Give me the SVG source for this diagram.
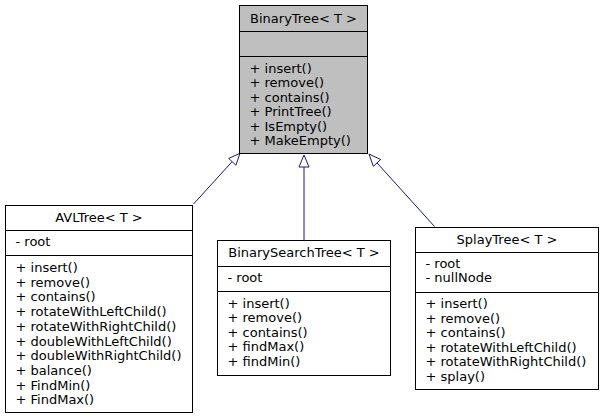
<svg xmlns="http://www.w3.org/2000/svg" width="604" height="419" viewBox="0 0 604 419">
<style>
text{font-family:"DejaVu Sans","Liberation Sans",sans-serif;font-size:13px;fill:#000}
.c{text-anchor:middle}
.box{stroke:#000;stroke-width:1}
.sep{stroke:#000;stroke-width:1}
.edge{stroke:#191970;stroke-width:1;fill:none}
.head{stroke:#191970;stroke-width:1;fill:#fff}
</style>
<rect width="604" height="419" fill="#fff"/>
<g id="connectors">
<line class="edge" x1="193.5" y1="204" x2="232" y2="161.8"/>
<polygon class="head" points="240,153.3 235.9,165.2 228.7,158.4"/>
<line class="edge" x1="304" y1="240" x2="304" y2="167"/>
<polygon class="head" points="304,155 309,167 299,167"/>
<line class="edge" x1="434.5" y1="226.5" x2="377" y2="162.9"/>
<polygon class="head" points="369,154 380.7,159.5 373.3,166.3"/>
</g>
<g id="BinaryTree">
<rect class="box" x="239.5" y="5.5" width="128" height="148" fill="#bfbfbf"/>
<line class="sep" x1="239.5" y1="31.5" x2="367.5" y2="31.5"/>
<line class="sep" x1="239.5" y1="56.5" x2="367.5" y2="56.5"/>
<text class="c" x="303.5" y="22.5">BinaryTree&lt; T &gt;</text>
<text x="249.5" y="72.5">+ insert()</text>
<text x="249.5" y="87">+ remove()</text>
<text x="249.5" y="101.5">+ contains()</text>
<text x="249.5" y="116">+ PrintTree()</text>
<text x="249.5" y="130.5">+ IsEmpty()</text>
<text x="249.5" y="145">+ MakeEmpty()</text>
</g>
<g id="AVLTree">
<rect class="box" x="5.5" y="205.5" width="187" height="207" fill="#fff"/>
<line class="sep" x1="5.5" y1="230.5" x2="192.5" y2="230.5"/>
<line class="sep" x1="5.5" y1="255.5" x2="192.5" y2="255.5"/>
<text class="c" x="99" y="221.5">AVLTree&lt; T &gt;</text>
<text x="15.5" y="246">- root</text>
<text x="15.5" y="272">+ insert()</text>
<text x="15.5" y="286.7">+ remove()</text>
<text x="15.5" y="301.4">+ contains()</text>
<text x="15.5" y="316.1">+ rotateWithLeftChild()</text>
<text x="15.5" y="330.8">+ rotateWithRightChild()</text>
<text x="15.5" y="345.5">+ doubleWithLeftChild()</text>
<text x="15.5" y="360.2">+ doubleWithRightChild()</text>
<text x="15.5" y="374.9">+ balance()</text>
<text x="15.5" y="389.6">+ FindMin()</text>
<text x="15.5" y="404.3">+ FindMax()</text>
</g>
<g id="BinarySearchTree">
<rect class="box" x="217.5" y="240.5" width="173" height="135" fill="#fff"/>
<line class="sep" x1="217.5" y1="266.5" x2="390.5" y2="266.5"/>
<line class="sep" x1="217.5" y1="291.5" x2="390.5" y2="291.5"/>
<text class="c" x="304" y="257">BinarySearchTree&lt; T &gt;</text>
<text x="227.5" y="282">- root</text>
<text x="227.5" y="307.5">+ insert()</text>
<text x="227.5" y="322">+ remove()</text>
<text x="227.5" y="336.5">+ contains()</text>
<text x="227.5" y="351">+ findMax()</text>
<text x="227.5" y="365.5">+ findMin()</text>
</g>
<g id="SplayTree">
<rect class="box" x="415.5" y="227.5" width="183" height="162" fill="#fff"/>
<line class="sep" x1="415.5" y1="252.5" x2="598.5" y2="252.5"/>
<line class="sep" x1="415.5" y1="292.5" x2="598.5" y2="292.5"/>
<text class="c" x="507" y="243.5">SplayTree&lt; T &gt;</text>
<text x="425.5" y="267.5">- root</text>
<text x="425.5" y="282">- nullNode</text>
<text x="425.5" y="308">+ insert()</text>
<text x="425.5" y="322.5">+ remove()</text>
<text x="425.5" y="337">+ contains()</text>
<text x="425.5" y="351.5">+ rotateWithLeftChild()</text>
<text x="425.5" y="366">+ rotateWithRightChild()</text>
<text x="425.5" y="380.5">+ splay()</text>
</g>
</svg>
